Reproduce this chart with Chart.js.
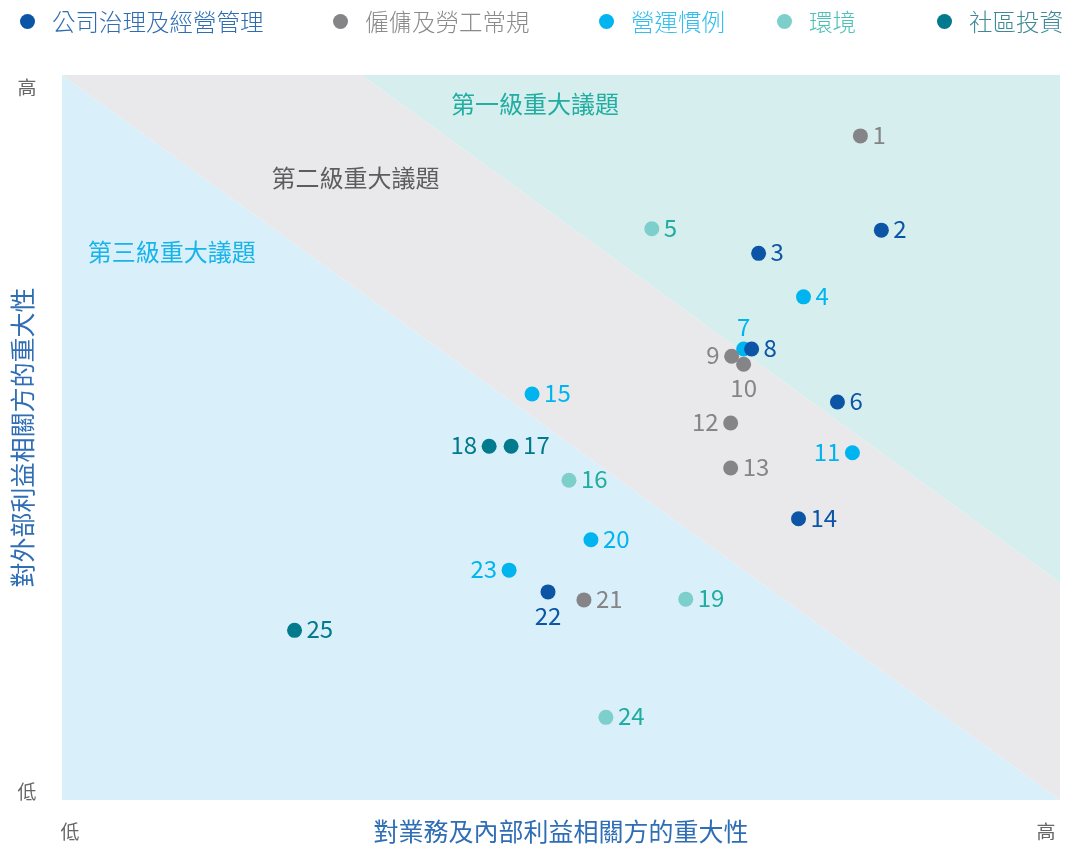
<!DOCTYPE html>
<html>
<head>
<meta charset="utf-8">
<script src="https://cdn.jsdelivr.net/npm/chart.js@4.4.1/dist/chart.umd.min.js"></script>
<style>
  html, body { margin: 0; padding: 0; background: #fff; }
  #wrap { position: relative; width: 1071px; height: 844px; }
  #legend { position: absolute; left: 0; top: 0; width: 1071px; height: 45px; font-family: "Noto Sans CJK TC", sans-serif; font-size: 23.5px; font-weight: 300; }
  .item { position: absolute; top: 4px; white-space: nowrap; }
  .dot { position: absolute; top: 14px; width: 15px; height: 15px; border-radius: 50%; }
</style>
</head>
<body>
<div id="wrap">
  <canvas id="chart" width="1071" height="844"></canvas>
  <div id="legend"></div>
</div>
<script>
// Series names and colours
const seriesNames = ['公司治理及經營管理', '僱傭及勞工常規', '營運慣例', '環境', '社區投資'];
const pointColors = ['#0b54a6', '#858588', '#00b5ef', '#7dcfcb', '#007a8c'];
const textColors = ['#0b54a6', '#858588', '#00b5ef', '#22ada1', '#007a8c'];
const legendTextColors = ['#2f6db2', '#8a8a8c', '#33bdee', '#4cc0b7', '#3d8a96'];

// Issue numbers, x = importance to business, y = importance to stakeholders (0-100)
const governanceIds = [2, 3, 6, 8, 14, 22];
const governanceX = [82.1, 69.8, 77.7, 69.1, 73.8, 48.7];
const governanceY = [78.6, 75.4, 54.9, 62.2, 38.8, 28.7];

const labourIds = [1, 9, 10, 12, 13, 21];
const labourX = [80.0, 67.1, 68.3, 67.0, 67.0, 52.3];
const labourY = [91.6, 61.2, 60.1, 52.0, 45.8, 27.6];

const operationIds = [4, 7, 11, 15, 20, 23];
const operationX = [74.3, 68.3, 79.2, 47.1, 53.0, 44.8];
const operationY = [69.4, 62.2, 47.9, 56.0, 35.9, 31.7];

const environmentIds = [5, 16, 19, 24];
const environmentX = [59.1, 50.8, 62.5, 54.5];
const environmentY = [78.8, 44.1, 27.7, 11.4];

const communityIds = [17, 18, 25];
const communityX = [45.0, 42.8, 23.3];
const communityY = [48.8, 48.8, 23.4];

// Where each number label sits relative to its dot
const labelSide = { 7: 'top', 9: 'left', 10: 'bottom', 11: 'left', 12: 'left', 18: 'left', 22: 'bottom', 23: 'left' };

// Zone bands (boundaries y = 100 - x and y = 130 - x)
const zoneNames = ['第一級重大議題', '第二級重大議題', '第三級重大議題'];
const zoneLabelX = [47.4, 29.4, 11.0];
const zoneLabelY = [96.0, 85.8, 75.6];
const zoneTextColors = ['#22ada1', '#5d5d5f', '#16b4ea'];

// Axis end labels (low / high) and where they sit on each scale
const xTickLabels = ['低', '高'];
const xTickValues = [0.8, 98.6];
const yTickLabels = ['低', '高'];
const yTickValues = [1.1, 98.2];

function toPoints(xs, ys, ids) {
  return xs.map((x, i) => ({ x: x, y: ys[i], id: ids[i] }));
}

const groups = [
  toPoints(governanceX, governanceY, governanceIds),
  toPoints(labourX, labourY, labourIds),
  toPoints(operationX, operationY, operationIds),
  toPoints(environmentX, environmentY, environmentIds),
  toPoints(communityX, communityY, communityIds)
];

// HTML legend
const legendPos = [20, 333, 599, 777, 937];
const legend = document.getElementById('legend');
seriesNames.forEach((name, i) => {
  const dot = document.createElement('div');
  dot.className = 'dot';
  dot.style.left = legendPos[i] + 'px';
  dot.style.background = pointColors[i];
  legend.appendChild(dot);
  const txt = document.createElement('div');
  txt.className = 'item';
  txt.style.left = (legendPos[i] + 32) + 'px';
  txt.style.color = legendTextColors[i];
  txt.textContent = name;
  legend.appendChild(txt);
});

// Draw the three zones, zone names, axis labels and titles
const zonesPlugin = {
  id: 'zones',
  beforeDatasetsDraw(chart) {
    const { ctx, chartArea, scales: { x, y } } = chart;
    const poly = (pts, color) => {
      ctx.beginPath();
      pts.forEach((p, i) => {
        const px = x.getPixelForValue(p[0]);
        const py = y.getPixelForValue(p[1]);
        if (i === 0) ctx.moveTo(px, py); else ctx.lineTo(px, py);
      });
      ctx.closePath();
      ctx.fillStyle = color;
      ctx.fill();
    };
    ctx.save();
    poly([[0, 0], [100, 0], [0, 100]], '#d9eff9');
    poly([[0, 100], [100, 0], [100, 30], [30, 100]], '#e9e9eb');
    poly([[30, 100], [100, 30], [100, 100]], '#d6eeee');

    ctx.font = '24px "Noto Sans CJK TC"';
    ctx.textAlign = 'center';
    ctx.textBaseline = 'middle';
    zoneNames.forEach((n, i) => {
      ctx.fillStyle = zoneTextColors[i];
      ctx.fillText(n, x.getPixelForValue(zoneLabelX[i]), y.getPixelForValue(zoneLabelY[i]));
    });

    // low / high ends
    ctx.fillStyle = '#666';
    ctx.font = '19px "Noto Sans CJK TC"';
    xTickValues.forEach((v, i) => ctx.fillText(xTickLabels[i], x.getPixelForValue(v), 832));
    yTickValues.forEach((v, i) => ctx.fillText(yTickLabels[i], 27, y.getPixelForValue(v)));

    // axis titles
    ctx.fillStyle = '#2f6eb5';
    ctx.font = '25px "Noto Sans CJK TC"';
    ctx.fillText('對業務及內部利益相關方的重大性', (chartArea.left + chartArea.right) / 2, 831);
    ctx.translate(22, (chartArea.top + chartArea.bottom) / 2);
    ctx.rotate(-Math.PI / 2);
    ctx.fillText('對外部利益相關方的重大性', 0, 0);
    ctx.restore();
  }
};

// Number labels next to each dot
const numberPlugin = {
  id: 'numbers',
  afterDatasetsDraw(chart) {
    const ctx = chart.ctx;
    ctx.save();
    ctx.font = '24px "Noto Sans CJK TC"';
    chart.data.datasets.forEach((ds, di) => {
      const meta = chart.getDatasetMeta(di);
      ctx.fillStyle = textColors[di];
      meta.data.forEach((el, i) => {
        const id = ds.data[i].id;
        const side = labelSide[id] || 'right';
        let tx = el.x, ty = el.y;
        ctx.textBaseline = 'middle';
        if (side === 'right') { ctx.textAlign = 'left'; tx += 12; }
        else if (side === 'left') { ctx.textAlign = 'right'; tx -= 12; }
        else if (side === 'top') { ctx.textAlign = 'center'; ty -= 21; }
        else { ctx.textAlign = 'center'; ty += 25; }
        ctx.fillText(String(id), tx, ty - 1);
      });
    });
    ctx.restore();
  }
};

new Chart(document.getElementById('chart'), {
  type: 'scatter',
  data: {
    datasets: groups.map((g, i) => ({
      label: seriesNames[i],
      data: g,
      backgroundColor: pointColors[i],
      borderWidth: 0,
      pointRadius: 7.5,
      pointHoverRadius: 7.5
    }))
  },
  options: {
    responsive: false,
    animation: false,
    layout: { padding: { left: 62, right: 11, top: 75, bottom: 44 } },
    plugins: {
      legend: { display: false },
      tooltip: { enabled: false }
    },
    scales: {
      x: { display: false, min: 0, max: 100 },
      y: { display: false, min: 0, max: 100 }
    }
  },
  plugins: [zonesPlugin, numberPlugin]
});
</script>
</body>
</html>
